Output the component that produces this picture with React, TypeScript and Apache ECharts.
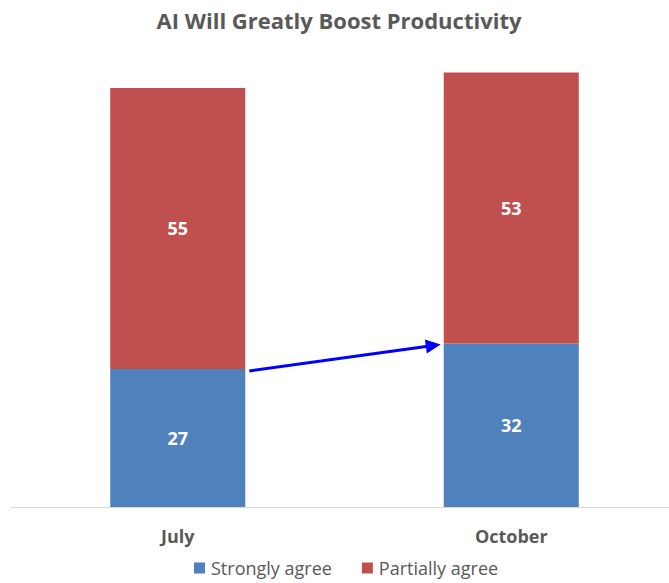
import React, { useEffect, useRef } from "react";
import * as echarts from "echarts";

const TITLE = "AI Will Greatly Boost Productivity";
const categories = ["July", "October"];
const stronglyAgree = [27, 32];
const partiallyAgree = [55, 53];
const seriesNames = ["Strongly agree", "Partially agree"];

const BLUE = "#4F81BD";
const RED = "#C0504D";
const TEXT = "#595959";
const FONT = "'Open Sans', 'Noto Sans', sans-serif";

export default function App() {
  const ref = useRef<HTMLDivElement>(null);
  useEffect(() => {
    document.body.style.margin = "0";
    const chart = echarts.init(ref.current!, null, { renderer: "svg" });
    const labelStyle = {
      show: true,
      position: "inside",
      color: "#ffffff",
      fontWeight: "bold",
      fontSize: 18,
      fontFamily: FONT,
    };
    chart.setOption({
      animation: false,
      title: {
        text: TITLE,
        left: "center",
        top: 4,
        textStyle: { fontSize: 22, fontWeight: "bold", color: TEXT, fontFamily: FONT },
      },
      legend: {
        bottom: 1,
        left: 189,
        itemWidth: 11,
        itemHeight: 11,
        itemGap: 30,
        icon: "rect",
        textStyle: { fontSize: 18, color: TEXT, fontFamily: FONT, padding: [0, 0, 0, 1] },
        data: seriesNames,
      },
      grid: { left: 11, right: 0, top: 47, bottom: 76 },
      xAxis: {
        type: "category",
        data: categories,
        axisLine: { lineStyle: { color: "#D9D9D9", width: 1 } },
        axisTick: { show: false },
        axisLabel: { fontSize: 18, fontWeight: "bold", color: TEXT, fontFamily: FONT, margin: 20 },
      },
      yAxis: { type: "value", min: 0, max: 90, show: false, splitLine: { show: false } },
      series: [
        {
          name: seriesNames[0],
          type: "bar",
          stack: "total",
          barWidth: "40.5%",
          data: stronglyAgree,
          itemStyle: { color: BLUE },
          label: labelStyle,
        },
        {
          name: seriesNames[1],
          type: "bar",
          stack: "total",
          barWidth: "40.5%",
          data: partiallyAgree,
          itemStyle: { color: RED },
          label: labelStyle,
        },
      ],
    });

    const p1 = chart.convertToPixel({ seriesIndex: 0 }, [categories[0], stronglyAgree[0]]) as number[];
    const p2 = chart.convertToPixel({ seriesIndex: 0 }, [categories[1], stronglyAgree[1]]) as number[];
    const half = (p2[0] - p1[0]) * 0.2025;
    const x1 = p1[0] + half + 4;
    const y1 = p1[1] + 2;
    const x2 = p2[0] - half - 3;
    const y2 = p2[1] + 1;
    const dx = x2 - x1;
    const dy = y2 - y1;
    const len = Math.sqrt(dx * dx + dy * dy);
    const ux = dx / len;
    const uy = dy / len;
    const headLen = 15;
    const headHalf = 7;
    const bx = x2 - ux * headLen;
    const by = y2 - uy * headLen;
    chart.setOption({
      graphic: [
        {
          type: "line",
          shape: { x1, y1, x2: bx + ux * 2, y2: by + uy * 2 },
          style: { stroke: "#0000FF", lineWidth: 3 },
          z: 100,
        },
        {
          type: "polygon",
          shape: {
            points: [
              [x2, y2],
              [bx - uy * headHalf, by + ux * headHalf],
              [bx + uy * headHalf, by - ux * headHalf],
            ],
          },
          style: { fill: "#0000FF" },
          z: 100,
        },
      ],
    });
    return () => chart.dispose();
  }, []);
  return (
    <div style={{ width: 669, height: 583, overflow: "hidden", position: "relative" }}>
      <div ref={ref} style={{ width: 678, height: 583 }} />
    </div>
  );
}
